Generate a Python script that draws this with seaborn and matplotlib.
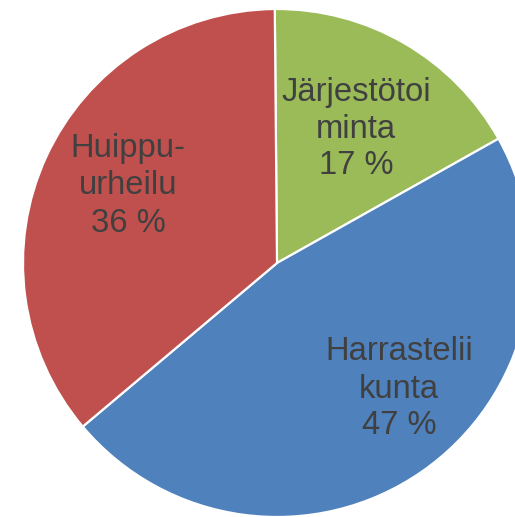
import matplotlib
matplotlib.use("Agg")
import matplotlib.pyplot as plt
import seaborn as sns

# data
labels = ["Järjestötoi\nminta", "Harrastelii\nkunta", "Huippu-\nurheilu"]
shares = [17, 47, 36]
colors = ["#9BBB59", "#4F81BD", "#C0504D"]

sns.set_theme(style="white")
plt.rcParams['font.family'] = ['Liberation Sans', 'DejaVu Sans']

fig = plt.figure(figsize=(5.15, 5.17), dpi=100)
ax = fig.add_axes([0, 0, 1, 1])

# pie in pixel space (y up)
cx, cy, r = 277, 254, 254
wedges, _ = ax.pie(shares, colors=sns.color_palette(colors), startangle=90.5,
                   counterclock=False, center=(cx, cy), radius=r,
                   wedgeprops=dict(edgecolor="white", linewidth=1.6))

# label positions (pixels from top-left)
label_pos = [(356, 129), (399, 389), (128, 186)]
for lab, val, (px, py) in zip(labels, shares, label_pos):
    ax.text(px, 517 - py, f"{lab}\n{val} %", ha="center", va="center",
            fontsize=23.6, color="#404040", linespacing=1.25)

ax.set_xlim(0, 515)
ax.set_ylim(0, 517)
ax.set_aspect("equal")
ax.axis("off")

fig.savefig("out.png", dpi=100)
